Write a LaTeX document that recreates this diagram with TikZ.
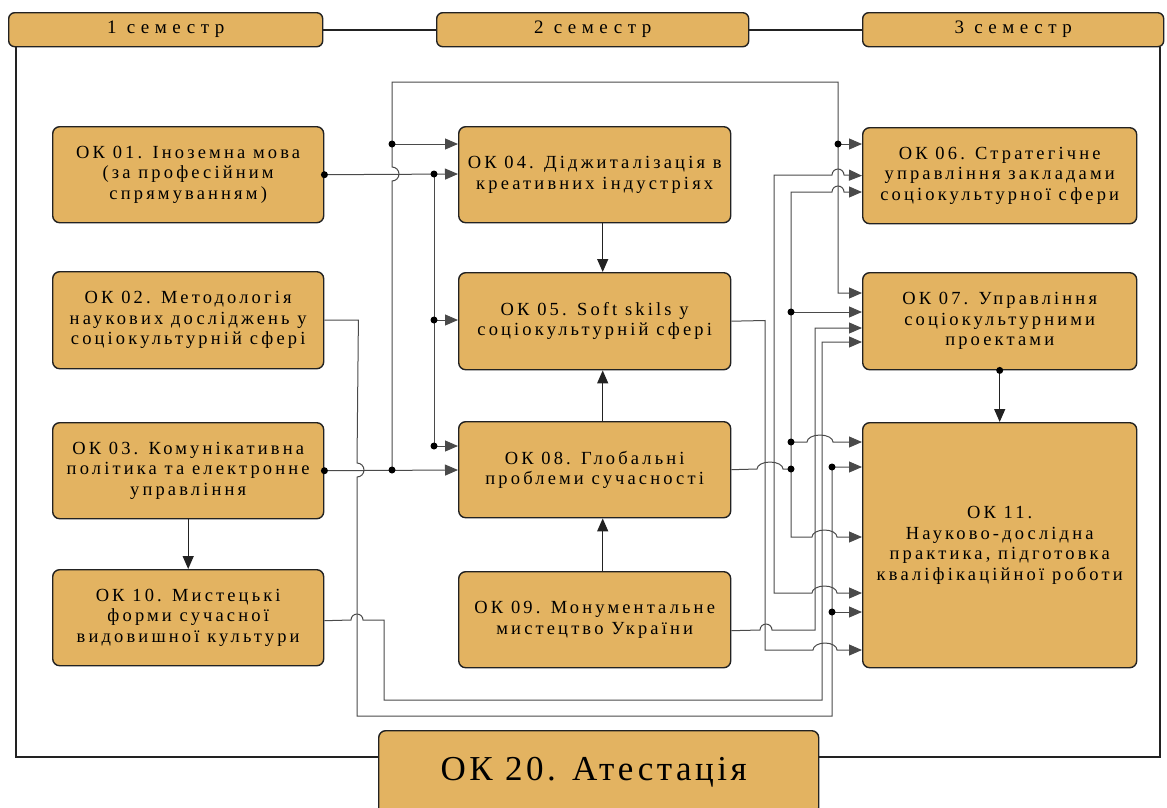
\documentclass[tikz,border=0pt]{standalone}
\usepackage{fontspec}
\setmainfont{Liberation Serif}
\newfontfamily\okfont[LetterSpace=17]{Liberation Serif}
\newfontfamily\semfont[LetterSpace=29]{Liberation Serif}
\newfontfamily\atfont[LetterSpace=10]{Liberation Serif}
\usetikzlibrary{arrows.meta}

\definecolor{okfill}{HTML}{E3B361}
\definecolor{okline}{HTML}{222222}
\definecolor{linkgray}{HTML}{4A4A4A}

\tikzset{
  okbox/.style={draw=okline, line width=1.4pt, fill=okfill, rounded corners=7pt, align=center,
    anchor=north west, inner sep=0pt, font=\okfont\fontsize{18.5}{20.5}\selectfont},
  sembox/.style={okbox, rounded corners=6pt, minimum height=34pt, font=\semfont\fontsize{19}{22}\selectfont},
  link/.style={draw=linkgray, line width=1pt},
  flow/.style={draw=okline, line width=1.3pt},
  frame/.style={draw=okline, line width=1.6pt},
}

\begin{document}
\begin{tikzpicture}[x=1pt, y=-1pt, >={Triangle[length=13pt,width=11pt]}]
\useasboundingbox (0,0) rectangle (1167,807);

\node[sembox, minimum width=314pt] (sem1) at (8,12) {1 семестр};
\node[sembox, minimum width=312pt] (sem2) at (436,12) {2 семестр};
\node[sembox, minimum width=301pt] (sem3) at (862,12) {3 семестр};

\node[okbox, minimum width=271pt, minimum height=96pt] (ok01) at (52,126) {ОК 01. Іноземна мова\\(за професійним\\спрямуванням)};
\node[okbox, minimum width=271pt, minimum height=97pt] (ok02) at (52,271) {ОК 02. Методологія\\наукових досліджень у\\соціокультурній сфері};
\node[okbox, minimum width=271pt, minimum height=96pt] (ok03) at (52,422) {ОК 03. Комунікативна\\політика та електронне\\управління};
\node[okbox, minimum width=271pt, minimum height=96pt] (ok10) at (52,569) {ОК 10. Мистецькі\\форми сучасної\\видовишної культури};

\node[okbox, minimum width=272pt, minimum height=96pt] (ok04) at (458,126) {ОК 04. Діджиталізація в\\креативних індустріях};
\node[okbox, minimum width=272pt, minimum height=97pt] (ok05) at (458,272) {ОК 05. Soft skils у\\соціокультурній сфері};
\node[okbox, minimum width=272pt, minimum height=96pt] (ok08) at (458,421) {ОК 08. Глобальні\\проблеми сучасності};
\node[okbox, minimum width=272pt, minimum height=96pt] (ok09) at (458,571) {ОК 09. Монументальне\\мистецтво України};

\node[okbox, minimum width=274pt, minimum height=96pt] (ok06) at (862,127) {ОК 06. Стратегічне\\управління закладами\\соціокультурної сфери};
\node[okbox, minimum width=274pt, minimum height=97pt] (ok07) at (862,272) {ОК 07. Управління\\соціокультурними\\проектами};
\node[okbox, minimum width=274pt, minimum height=245pt] (ok11) at (862,422) {ОК 11.\\Науково-дослідна\\практика, підготовка\\кваліфікаційної роботи};

\node[okbox, minimum width=440pt, minimum height=84pt, font=\atfont\fontsize{35}{40}\selectfont] (ok20) at (378,730) {ОК 20. Атестація\hspace*{10pt}};

\coordinate (fl) at (16,757);
\coordinate (fr) at (1160,757);
\draw[frame] (sem1) -- (sem2);
\draw[frame] (sem2) -- (sem3);
\draw[frame] (sem1.south west -| fl) -- (fl) -- (ok20.west |- fl);
\draw[frame] (sem3.south east -| fr) -- (fr) -- (ok20.east |- fr);

\coordinate (b1) at (434,174);
\coordinate (b1m) at (434,320);
\coordinate (b1d) at (434,446);
\coordinate (b3) at (392,470);
\coordinate (b3u) at (392,144);
\coordinate (b3r) at (838,144);
\coordinate (b8) at (791,469);
\coordinate (b8m) at (791,312);
\coordinate (b8d) at (791,442);
\coordinate (b2) at (832,467);
\coordinate (b2d) at (832,612);

\draw[link,->] (ok03.east) -- (ok08.west |- b3);
\draw[link,->] (b3) -- (392,181) arc(90:-90:7) -- (392,82) -- (838,82) -- (838,293) -- (ok07.west |- 0,293);
\draw[link,->] (b3u) -- (ok04.west |- b3u);
\draw[link,->] (b3r) -- (ok06.west |- b3r);

\draw[link,->] (ok01.east) -- (ok04.west |- b1);
\draw[link,->] (b1) -- (b1d) -- (ok08.west |- b1d);
\draw[link,->] (b1m) -- (ok05.west |- b1m);

\draw[link,->] (ok02.east) -- ++(34,0) -- (357,463) arc(-90:90:7) -- (357,716) -- (832,716) -- (b2) -- (ok11.west |- b2);
\draw[link,->] (b2d) -- (ok11.west |- b2d);

\draw[link,->] ([yshift=-3pt]ok10.east) -- (351,620) arc(180:360:6) -- (384,620) -- (384,700) -- (822,700) -- (822,342) -- (ok07.west |- 0,342);

\draw[link,->] (ok05.east) -- (765,320.5) -- (765,650) -- (813,650) arc[start angle=180, end angle=360, x radius=12, y radius=7] -- (ok11.west |- 0,650);

\draw[link,->] (ok08.east) -- (757,469) arc[start angle=180, end angle=360, x radius=13, y radius=7] -- (b8) -- (791,537) -- (812,537) arc[start angle=180, end angle=360, x radius=12.5, y radius=7] -- (ok11.west |- 0,537);
\draw[link,->] (b8) -- (791,192) -- (832,192) arc(180:360:6) -- (ok06.west |- 0,192);
\draw[link,->] (b8m) -- (ok07.west |- b8m);
\draw[link,->] (b8d) -- (807,442) arc[start angle=180, end angle=360, x radius=13, y radius=7] -- (ok11.west |- b8d);

\draw[link,<->] (ok06.west) -- (844,175) arc(0:-180:6) -- (774,175) -- (774,593) -- (812,593) arc[start angle=180, end angle=360, x radius=12.5, y radius=7] -- (ok11.west |- 0,593);

\draw[link,->] ([yshift=-11pt]ok09.east) -- (760,630) arc(180:360:6) -- (815,630) -- (815,328) -- (ok07.west |- 0,328);

\draw[flow,->] ([xshift=8pt]ok04.south) -- ([xshift=8pt]ok05.north);
\draw[flow,->] ([xshift=8pt]ok08.north) -- ([xshift=8pt]ok05.south);
\draw[flow,->] ([xshift=8pt]ok09.north) -- ([xshift=8pt]ok08.south);
\draw[flow,->] (ok03.south) -- (ok10.north);
\draw[flow,->] (ok07.south) -- (ok11.north);

\foreach \p in {ok01.east, ok03.east, ok07.south, b1, b1m, b1d, b3, b3u, b3r, b8, b8m, b8d, b2, b2d}
  \fill (\p) circle (3.5pt);
\end{tikzpicture}
\end{document}
